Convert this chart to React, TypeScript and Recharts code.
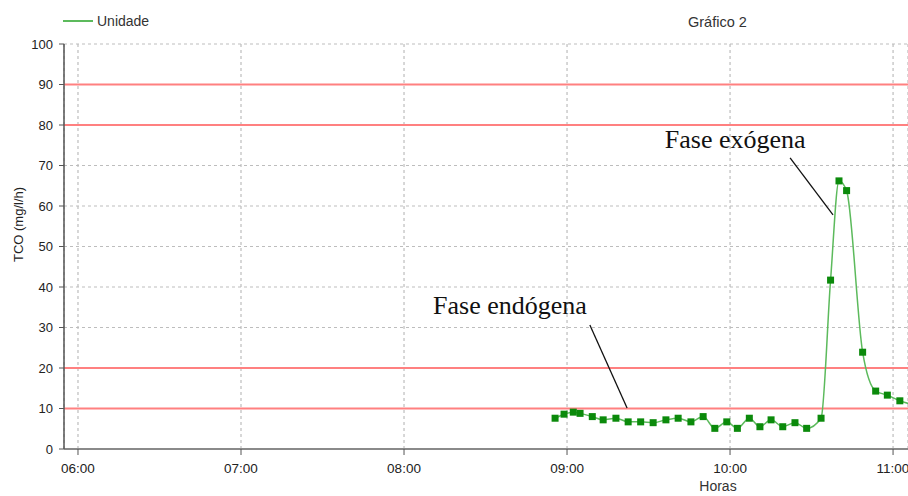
import React from "react";
import {
  LineChart,
  Line,
  XAxis,
  YAxis,
  CartesianGrid,
  ReferenceLine,
  ReferenceDot,
} from "recharts";

// minutes after 06:00
const TIMES = [
  175.6, 178.9, 182.3, 184.8, 189.3, 193.3, 198.0, 202.5, 207.1, 211.7, 216.4,
  220.9, 225.6, 230.1, 234.4, 238.8, 242.7, 247.1, 251.0, 255.1, 259.4, 263.9,
  268.2, 273.5, 277.0, 280.1, 282.9, 288.8, 293.6, 297.9, 302.5, 307.0,
];
const TCO = [
  7.6, 8.6, 9.1, 8.8, 8.0, 7.2, 7.6, 6.7, 6.7, 6.5, 7.2, 7.6, 6.7, 8.0, 5.1,
  6.7, 5.1, 7.6, 5.5, 7.2, 5.5, 6.5, 5.1, 7.6, 41.7, 66.2, 63.8, 23.9, 14.3,
  13.3, 11.9, 11.0,
];
const X_TICKS = [0, 60, 120, 180, 240, 300];
const Y_TICKS = [0, 10, 20, 30, 40, 50, 60, 70, 80, 90, 100];
const LIMITS = [10, 20, 80, 90];

const data = TIMES.map((t, i) => ({ t, tco: TCO[i] }));

const fmtHour = (m: number) => {
  const h = 6 + Math.floor(m / 60);
  const mm = Math.round(m % 60);
  return `${String(h).padStart(2, "0")}:${String(mm).padStart(2, "0")}`;
};

const LINE_GREEN = "#5cba5c";
const DOT_GREEN = "#0b8a0b";

const SquareDot = (props: any) => {
  const { cx, cy, index } = props;
  if (cx == null || cy == null) return <g key={`d-${index}`} />;
  return (
    <rect
      key={`d-${index}`}
      x={cx - 3.5}
      y={cy - 3.5}
      width={7}
      height={7}
      fill={DOT_GREEN}
    />
  );
};

const annotText = (label: string) => (p: any) =>
  (
    <text
      x={p.cx}
      y={p.cy}
      fontFamily="'Liberation Serif', 'Times New Roman', serif"
      fontSize={26}
      fill="#111"
    >
      {label}
    </text>
  );

const YTitle = ({ viewBox }: any) => {
  const x = viewBox.x + 18;
  const y = viewBox.y + viewBox.height / 2 - 22;
  return (
    <text
      x={x}
      y={y}
      transform={`rotate(-90 ${x} ${y})`}
      textAnchor="middle"
      dominantBaseline="central"
      fontSize={13}
      fill="#222"
    >
      TCO (mg/l/h)
    </text>
  );
};

const XTitle = ({ viewBox }: any) => (
  <text
    x={viewBox.x + 654}
    y={viewBox.y + viewBox.height - 5}
    textAnchor="middle"
    fontSize={14}
    fill="#333"
  >
    Horas
  </text>
);

export default function App() {
  return (
    <div
      style={{
        position: "absolute",
        left: 0,
        top: 0,
        width: 908,
        height: 496,
        background: "#fff",
        fontFamily: "'Liberation Sans', Arial, sans-serif",
        overflow: "hidden",
      }}
    >
      {/* legend */}
      <div
        style={{
          position: "absolute",
          left: 63,
          top: 13,
          display: "flex",
          alignItems: "center",
          zIndex: 2,
        }}
      >
        <svg width={31} height={6}>
          <line x1={0} y1={3} x2={30} y2={3} stroke={LINE_GREEN} strokeWidth={2} />
        </svg>
        <span style={{ fontSize: 14, color: "#333", marginLeft: 3 }}>Unidade</span>
      </div>
      <div
        style={{
          position: "absolute",
          left: 688,
          top: 14,
          fontSize: 14.5,
          color: "#333",
          zIndex: 2,
        }}
      >
        Gráfico 2
      </div>
      <LineChart
        width={908}
        height={496}
        data={data}
        margin={{ top: 44, right: 0, bottom: 0, left: 0 }}
        style={{ fontFamily: "'Liberation Sans', Arial, sans-serif" }}
      >
        <CartesianGrid stroke="#bdbdbd" strokeDasharray="3 3" strokeWidth={1.2} />
        {LIMITS.map((v) => (
          <ReferenceLine key={v} y={v} stroke="#ff8080" strokeWidth={2.2} />
        ))}
        <XAxis
          dataKey="t"
          type="number"
          domain={[-5.15, 305.5]}
          allowDataOverflow
          ticks={X_TICKS}
          tickFormatter={fmtHour}
          height={47}
          tickSize={6}
          tickMargin={8}
          axisLine={{ stroke: "#8a8a8a", strokeWidth: 2 }}
          tickLine={{ stroke: "#555" }}
          tick={{ fill: "#222", fontSize: 13.5 }}
          label={<XTitle />}
        />
        <YAxis
          type="number"
          domain={[0, 100]}
          ticks={Y_TICKS}
          width={64}
          tickSize={5}
          tickMargin={6}
          axisLine={{ stroke: "#555", strokeWidth: 1.5 }}
          tickLine={{ stroke: "#555" }}
          tick={{ fill: "#222", fontSize: 13 }}
          label={<YTitle />}
        />
        <ReferenceLine
          segment={[
            { x: 188.4, y: 30.6 },
            { x: 202.1, y: 10.1 },
          ]}
          stroke="#111"
          strokeWidth={1.3}
        />
        <ReferenceLine
          segment={[
            { x: 262.1, y: 71.9 },
            { x: 277.9, y: 57.8 },
          ]}
          stroke="#111"
          strokeWidth={1.3}
        />
        <ReferenceDot x={130.7} y={33.3} r={0} shape={annotText("Fase endógena")} />
        <ReferenceDot x={216.0} y={74.3} r={0} shape={annotText("Fase exógena")} />
        <Line
          type="monotone"
          dataKey="tco"
          stroke={LINE_GREEN}
          strokeWidth={1.5}
          dot={SquareDot}
          activeDot={false}
          isAnimationActive={false}
        />
      </LineChart>
    </div>
  );
}
